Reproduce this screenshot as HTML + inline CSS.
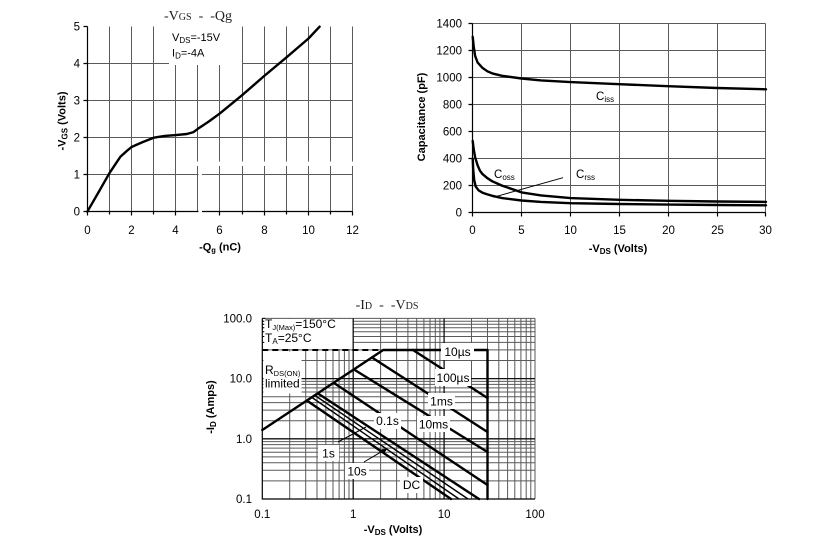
<!DOCTYPE html>
<html><head><meta charset="utf-8"><style>
html,body{margin:0;padding:0;background:#fff;}
svg{display:block;}
text{font-family:"Liberation Sans",Arial,sans-serif;fill:#000;}
.t{font-size:11.5px;}
.b{font-size:11px;font-weight:bold;}
.s{font-family:"Liberation Serif","Times New Roman",serif;font-size:14px;fill:#222;}
.g{stroke:#5a5a5a;stroke-width:1;fill:none;}
.ax{stroke:#000;stroke-width:1.2;fill:none;}
.c{stroke:#000;stroke-width:2.4;fill:none;stroke-linejoin:round;stroke-linecap:round;}
</style></head><body>
<svg width="830" height="558" viewBox="0 0 830 558" xmlns="http://www.w3.org/2000/svg">
<rect width="830" height="558" fill="#fff"/>

<!-- ============ TOP-LEFT: -VGS vs -Qg ============ -->
<text class="s" x="198" y="20" text-anchor="middle">-V<tspan font-size="10">GS</tspan>&#160;&#160;-&#160;&#160;-Qg</text>
<path class="g" d="M109.5 26.5V211.5M131.5 26.5V211.5M153.5 26.5V211.5M175.5 26.5V211.5M197.5 26.5V211.5M219.5 26.5V211.5M242.5 26.5V211.5M264.5 26.5V211.5M286.5 26.5V211.5M308.5 26.5V211.5M330.5 26.5V211.5M352.5 26.5V211.5
M87.5 174.5H352.5M87.5 137.5H352.5M87.5 100.5H352.5M87.5 63.5H352.5"/>
<!-- grid gaps (scan artifacts) -->
<rect x="169" y="25" width="73" height="40" fill="#fff"/>
<rect x="176.5" y="161.5" width="178" height="4.5" fill="#fff"/>
<rect x="198.5" y="166" width="3.5" height="50" fill="#fff"/>
<path class="ax" d="M87.5 26.5V211.5H198.5M202 211.5H352.5"/>
<path class="ax" d="M83.5 26.5H87.5M83.5 63.5H87.5M83.5 100.5H87.5M83.5 137.5H87.5M83.5 174.5H87.5M83.5 211.5H87.5
M87.5 211.5v4M109.5 211.5v3M131.5 211.5v4M153.5 211.5v3M175.5 211.5v4M219.5 211.5v4M242.5 211.5v3M264.5 211.5v4M286.5 211.5v3M308.5 211.5v4M330.5 211.5v3M352.5 211.5v4"/>
<polyline class="c" points="87.3,211.7 98.4,192.5 109.4,173.2 120.5,156.6 127.1,150.7 131.5,147.0 142.6,142.1 153.7,137.7 164.7,135.9 175.8,135.1 186.8,134.0 193.5,132.1 197.9,128.8 209.0,121.4 220.0,113.3 242.1,95.2 264.3,75.9 286.4,57.4 308.5,38.5 319.6,26.7"/>
<g class="t">
<text x="80" y="30.5" text-anchor="end">5</text>
<text x="80" y="67.5" text-anchor="end">4</text>
<text x="80" y="104.5" text-anchor="end">3</text>
<text x="80" y="141.5" text-anchor="end">2</text>
<text x="80" y="178.5" text-anchor="end">1</text>
<text x="80" y="215.5" text-anchor="end">0</text>
<text x="87.5" y="234" text-anchor="middle">0</text>
<text x="131.5" y="234" text-anchor="middle">2</text>
<text x="175.5" y="234" text-anchor="middle">4</text>
<text x="219.5" y="234" text-anchor="middle">6</text>
<text x="264.5" y="234" text-anchor="middle">8</text>
<text x="308.5" y="234" text-anchor="middle">10</text>
<text x="352.5" y="234" text-anchor="middle">12</text>
</g>
<text x="172" y="41" font-size="11">V<tspan font-size="8" dy="2">DS</tspan><tspan dy="-2">=-15V</tspan></text>
<text x="172" y="56.5" font-size="11">I<tspan font-size="8" dy="2">D</tspan><tspan dy="-2">=-4A</tspan></text>
<text class="b" x="220" y="250.5" text-anchor="middle" font-size="10">-Q<tspan font-size="7.5" dy="2">g</tspan><tspan dy="-2"> (nC)</tspan></text>
<text class="b" transform="translate(65.5,121) rotate(-90)" text-anchor="middle">-V<tspan font-size="8" dy="2">GS</tspan><tspan dy="-2"> (Volts)</tspan></text>

<!-- ============ TOP-RIGHT: Capacitance ============ -->
<path class="g" d="M521.5 23.5V212.5M570.5 23.5V212.5M619.5 23.5V212.5M668.5 23.5V212.5M717.5 23.5V212.5M765.5 23.5V212.5
M472.5 185.5H765.5M472.5 158.5H765.5M472.5 131.5H765.5M472.5 104.5H765.5M472.5 77.5H765.5M472.5 50.5H765.5M472.5 23.5H765.5"/>
<path class="ax" d="M472.5 23.5V212.5H765.5"/>
<path class="ax" d="M468.5 23.5H472.5M468.5 50.5H472.5M468.5 77.5H472.5M468.5 104.5H472.5M468.5 131.5H472.5M468.5 158.5H472.5M468.5 185.5H472.5M468.5 212.5H472.5
M472.5 212.5v4M521.5 212.5v4M570.5 212.5v4M619.5 212.5v4M668.5 212.5v4M717.5 212.5v4M765.5 212.5v4"/>
<g class="c" stroke-width="2.7">
<polyline points="472.7,36.8 473.7,46.3 475.1,55.8 477.6,62.5 482.5,67.9 487.4,71.3 492.3,73.4 502.0,75.8 521.6,78.5 541.1,80.4 570.5,82.1 619.4,84.2 668.2,86.2 717.1,88.0 766.0,89.3"/>
<polyline points="472.7,141.0 473.7,149.1 475.1,157.2 477.6,165.3 480.0,170.8 482.5,174.1 487.4,178.2 492.3,181.3 502.0,185.6 521.6,192.4 541.1,195.4 570.5,198.1 619.4,199.8 668.2,200.8 717.1,201.5 766.0,201.9"/>
<polyline points="472.7,158.6 473.2,169.4 474.2,180.2 475.6,186.3 478.6,190.4 482.5,192.7 487.4,194.4 492.3,195.8 502.0,198.1 521.6,200.5 541.1,201.9 570.5,203.2 619.4,204.0 668.2,204.6 717.1,205.0 766.0,205.3"/>
</g>
<line x1="563" y1="177.7" x2="493.3" y2="197.3" stroke="#000" stroke-width="1"/>
<text x="596" y="100" font-size="11.5">C<tspan font-size="8" dy="2">iss</tspan></text>
<text x="494" y="178" font-size="11.5">C<tspan font-size="8" dy="2">oss</tspan></text>
<text x="576" y="178" font-size="11.5">C<tspan font-size="8" dy="2">rss</tspan></text>
<g class="t">
<text x="462" y="27.5" text-anchor="end">1400</text>
<text x="462" y="54.5" text-anchor="end">1200</text>
<text x="462" y="81.5" text-anchor="end">1000</text>
<text x="462" y="108.5" text-anchor="end">800</text>
<text x="462" y="135.5" text-anchor="end">600</text>
<text x="462" y="162.5" text-anchor="end">400</text>
<text x="462" y="189.5" text-anchor="end">200</text>
<text x="462" y="216.5" text-anchor="end">0</text>
<text x="472.5" y="234" text-anchor="middle">0</text>
<text x="521.5" y="234" text-anchor="middle">5</text>
<text x="570.5" y="234" text-anchor="middle">10</text>
<text x="619.5" y="234" text-anchor="middle">15</text>
<text x="668.5" y="234" text-anchor="middle">20</text>
<text x="717.5" y="234" text-anchor="middle">25</text>
<text x="765.5" y="234" text-anchor="middle">30</text>
</g>
<text class="b" x="618" y="252" text-anchor="middle">-V<tspan font-size="8" dy="2">DS</tspan><tspan dy="-2"> (Volts)</tspan></text>
<text class="b" transform="translate(425,117) rotate(-90)" text-anchor="middle">Capacitance (pF)</text>

<!-- ============ BOTTOM: SOA ============ -->
<text class="s" x="387" y="309" text-anchor="middle">-I<tspan font-size="10">D</tspan>&#160;&#160;-&#160;&#160;-V<tspan font-size="10">DS</tspan></text>
<path class="g" stroke="#444" stroke-width="0.9" d="M289.7 318.4V499M305.7 318.4V499M317 318.4V499M325.8 318.4V499M333 318.4V499M339.1 318.4V499M344.4 318.4V499M349 318.4V499
M380.6 318.4V499M396.6 318.4V499M407.9 318.4V499M416.7 318.4V499M423.9 318.4V499M430 318.4V499M435.3 318.4V499M439.9 318.4V499
M471.5 318.4V499M487.5 318.4V499M498.8 318.4V499M507.6 318.4V499M514.8 318.4V499M520.9 318.4V499M526.2 318.4V499M530.8 318.4V499M535 318.4V499
M262.3 480.9H535M262.3 470.3H535M262.3 462.8H535M262.3 456.9H535M262.3 452.2H535M262.3 448.1H535M262.3 444.6H535M262.3 441.6H535
M262.3 420.7H535M262.3 410.1H535M262.3 402.6H535M262.3 396.7H535M262.3 392H535M262.3 387.9H535M262.3 384.4H535M262.3 381.4H535
M262.3 360.5H535M262.3 349.9H535M262.3 342.4H535M262.3 336.5H535M262.3 331.8H535M262.3 327.7H535M262.3 324.2H535M262.3 321.2H535M262.3 318.4H535"/>
<path d="M353.2 318.4V499M444.1 318.4V499M262.3 438.8H535M262.3 378.6H535" stroke="#111" stroke-width="1.3" fill="none"/>
<!-- white label areas -->
<rect x="263.5" y="319" width="89" height="30" fill="#fff"/>
<rect x="263.5" y="351.5" width="38" height="42" fill="#fff"/>
<path class="ax" d="M262.3 318.4V499H535"/>
<path d="M262.3 318.4h3M262.3 321.2h2M262.3 324.2h2M262.3 327.7h2M262.3 331.8h2M262.3 336.5h2M262.3 342.4h2M262.3 349.9h2" stroke="#000" stroke-width="1"/>
<!-- series -->
<line x1="262.3" y1="350" x2="383" y2="350" stroke="#000" stroke-width="2" stroke-dasharray="6,4"/>
<g class="c" stroke-width="2.6">
<polyline points="262.3,430 383.2,350 487.5,350 487.5,499"/>
<line x1="413" y1="350" x2="487.5" y2="398"/>
<line x1="372" y1="357.5" x2="487.5" y2="432"/>
<line x1="354" y1="369.5" x2="487.5" y2="452"/>
<line x1="334" y1="383" x2="487.5" y2="485"/>
<line x1="318" y1="393.5" x2="479" y2="499"/>
<line x1="307.5" y1="401" x2="451" y2="499"/>
</g>
<g stroke="#000" stroke-width="1.4">
<line x1="315" y1="395.5" x2="468" y2="499"/>
<line x1="312" y1="397.5" x2="459" y2="499"/>
</g>
<!-- label boxes -->
<g fill="#fff">
<rect x="441" y="343" width="33" height="17"/>
<rect x="435" y="369" width="36" height="17"/>
<rect x="428" y="393" width="27" height="16"/>
<rect x="374" y="413" width="27" height="16"/>
<rect x="417" y="416" width="33" height="16"/>
<rect x="318" y="445" width="21" height="16"/>
<rect x="345" y="463" width="24" height="16"/>
<rect x="400" y="477" width="23" height="16"/>
</g>
<line x1="338" y1="442" x2="366" y2="427" stroke="#000" stroke-width="1"/>
<line x1="364" y1="462" x2="386" y2="449" stroke="#000" stroke-width="1"/>
<path d="M387.5 448.2 L381 449.5 L384 453.5 Z" fill="#000"/>
<g font-size="12">
<text x="457.5" y="356" text-anchor="middle">10µs</text>
<text x="453" y="382" text-anchor="middle">100µs</text>
<text x="441.5" y="405.5" text-anchor="middle">1ms</text>
<text x="387.5" y="425" text-anchor="middle">0.1s</text>
<text x="433.5" y="428.5" text-anchor="middle">10ms</text>
<text x="328.5" y="457.5" text-anchor="middle">1s</text>
<text x="357" y="475.5" text-anchor="middle">10s</text>
<text x="411.5" y="489" text-anchor="middle">DC</text>
<text x="265" y="328">T<tspan font-size="7.5" dy="2">J(Max)</tspan><tspan dy="-2">=150°C</tspan></text>
<text x="265" y="342">T<tspan font-size="8" dy="2">A</tspan><tspan dy="-2">=25°C</tspan></text>
<text x="265" y="374">R<tspan font-size="7.5" dy="2">DS(ON)</tspan></text>
<text x="265" y="387.5">limited</text>
</g>
<g class="t">
<text x="252" y="322.4" text-anchor="end">100.0</text>
<text x="252" y="382.6" text-anchor="end">10.0</text>
<text x="252" y="442.8" text-anchor="end">1.0</text>
<text x="252" y="503" text-anchor="end">0.1</text>
<text x="262.3" y="518" text-anchor="middle">0.1</text>
<text x="353.2" y="518" text-anchor="middle">1</text>
<text x="444.1" y="518" text-anchor="middle">10</text>
<text x="535" y="518" text-anchor="middle">100</text>
</g>
<text class="b" x="393" y="533" text-anchor="middle">-V<tspan font-size="8" dy="2">DS</tspan><tspan dy="-2"> (Volts)</tspan></text>
<text class="b" transform="translate(214,407) rotate(-90)" text-anchor="middle">-I<tspan font-size="8" dy="2">D</tspan><tspan dy="-2"> (Amps)</tspan></text>
</svg>
</body></html>
